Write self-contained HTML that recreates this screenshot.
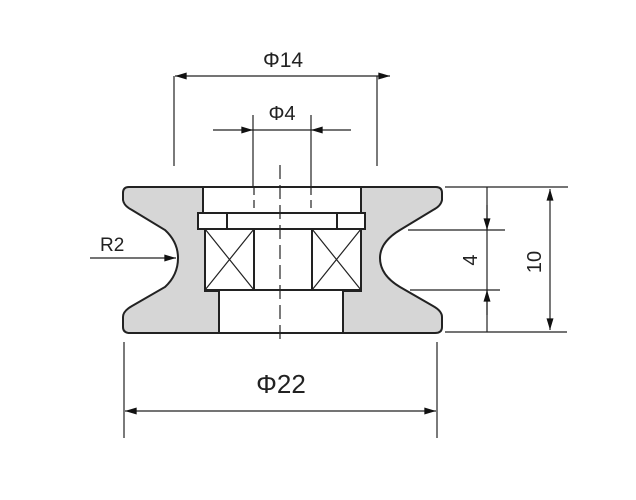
<!DOCTYPE html>
<html><head><style>body{margin:0;background:#fff}svg{display:block}</style></head><body>
<svg width="636" height="500" viewBox="0 0 636 500" xmlns="http://www.w3.org/2000/svg" font-family="Liberation Sans, sans-serif">
<defs>
<marker id="a" viewBox="0 0 10 6" refX="10" refY="3" markerWidth="24" markerHeight="7" markerUnits="userSpaceOnUse" orient="auto"><path d="M0,0L10,3L0,6z" fill="#111"/></marker>
</defs>
<g stroke="#222" stroke-width="1.2" fill="none">
<!-- left body -->
<path d="M203,187 L129,187 Q123,187 123,193 L123,200 Q124,206 132,210 L165,230 Q178,242 178,258 Q178,275 165,287 L132,306 Q123,311 123,317 L123,327 Q123,333 130,333 L219,333 L219,291 L205,291 L205,229 L203,229 Z" fill="#d6d6d6" stroke-width="2"/>
<path d="M361,187 L436,187 Q442,187 442,193 L442,200 Q441,206 433,210 L400,230 Q380,242 380,258 Q380,275 400,287 L433,306 Q442,311 442,317 L442,327 Q442,333 435,333 L343,333 L343,291 L361,291 L361,229 Z" fill="#d6d6d6" stroke-width="2"/>
<line x1="203" y1="187" x2="361" y2="187" stroke-width="2"/>
<line x1="219" y1="333" x2="343" y2="333" stroke-width="2"/>
<!-- washer -->
<rect x="198" y="213" width="167" height="16" fill="#fff" stroke-width="2"/>
<line x1="227" y1="213" x2="227" y2="229" stroke-width="2"/>
<line x1="337" y1="213" x2="337" y2="229" stroke-width="2"/>
<!-- bearing -->
<rect x="205" y="229" width="156" height="61" fill="#fff" stroke-width="2"/>
<line x1="254" y1="229" x2="254" y2="290" stroke-width="2"/>
<line x1="312" y1="229" x2="312" y2="290" stroke-width="2"/>
<path d="M205,229L254,290M254,229L205,290M312,229L361,290M361,229L312,290"/>
<!-- center dashed -->
<line x1="280" y1="165" x2="280" y2="345" stroke-dasharray="14,6"/>
<line x1="254" y1="187" x2="254" y2="213" stroke-dasharray="8,5"/>
<line x1="311" y1="187" x2="311" y2="213" stroke-dasharray="8,5"/>
<!-- phi14 -->
<line x1="174" y1="76" x2="174" y2="166"/>
<line x1="377" y1="76" x2="377" y2="166"/>
<line x1="200" y1="76" x2="175" y2="76" marker-end="url(#a)"/>
<line x1="200" y1="76" x2="365" y2="76"/>
<line x1="365" y1="76" x2="390" y2="76" marker-end="url(#a)"/>
<!-- phi4 -->
<line x1="253" y1="115" x2="253" y2="186"/>
<line x1="311" y1="115" x2="311" y2="186"/>
<line x1="213" y1="130" x2="253" y2="130" marker-end="url(#a)"/>
<line x1="253" y1="130" x2="311" y2="130"/>
<line x1="351" y1="130" x2="311" y2="130" marker-end="url(#a)"/>
<!-- phi22 -->
<line x1="124" y1="342" x2="124" y2="438"/>
<line x1="437" y1="342" x2="437" y2="438"/>
<line x1="150" y1="411" x2="125" y2="411" marker-end="url(#a)"/>
<line x1="150" y1="411" x2="412" y2="411"/>
<line x1="412" y1="411" x2="436" y2="411" marker-end="url(#a)"/>
<!-- R2 -->
<line x1="90" y1="258" x2="176" y2="258" marker-end="url(#a)"/>
<!-- right dims -->
<line x1="445" y1="187" x2="568" y2="187"/>
<line x1="408" y1="230" x2="505" y2="230"/>
<line x1="410" y1="290" x2="500" y2="290"/>
<line x1="445" y1="332" x2="567" y2="332"/>
<line x1="487" y1="187" x2="487" y2="332"/>
<line x1="487" y1="205" x2="487" y2="230" marker-end="url(#a)"/>
<line x1="487" y1="315" x2="487" y2="290" marker-end="url(#a)"/>
<line x1="550" y1="260" x2="550" y2="189" marker-end="url(#a)"/>
<line x1="550" y1="260" x2="550" y2="330" marker-end="url(#a)"/>
</g>
<g fill="#222">
<text x="283" y="67" font-size="21" text-anchor="middle">Φ14</text>
<text x="282" y="120" font-size="20" text-anchor="middle">Φ4</text>
<text x="281" y="393" font-size="26" text-anchor="middle">Φ22</text>
<text x="100" y="251" font-size="19">R2</text>
<text transform="translate(477,260) rotate(-90)" font-size="20" text-anchor="middle">4</text>
<text transform="translate(541,262) rotate(-90)" font-size="20" text-anchor="middle">10</text>
</g>
</svg>
</body></html>
